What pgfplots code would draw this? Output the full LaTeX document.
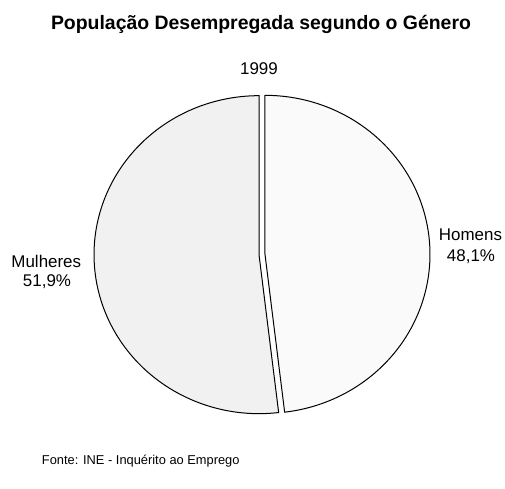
\documentclass[border=0pt]{standalone}
\usepackage{pgfplots}
\usepackage{pgfplotstable}
\pgfplotsset{compat=1.18}
\usepackage{fontspec}
\setmainfont{Liberation Sans}
\pgfplotstableread{
label value
Homens 48.1
Mulheres 51.9
}\piedata
\begin{document}
\begin{tikzpicture}
\pgfplotstablegetelem{0}{value}\of\piedata \let\vH\pgfplotsretval
\pgfplotstablegetelem{1}{value}\of\piedata \let\vM\pgfplotsretval
\pgfmathsetmacro{\aS}{90}
\pgfmathsetmacro{\aM}{90-3.6*\vH}
\pgfmathsetmacro{\aE}{\aM-3.6*\vM}
\pgfmathsetmacro{\mH}{(\aS+\aM)/2}
\pgfmathsetmacro{\mM}{(\aM+\aE)/2}
\def\cx{262}\def\cy{234.5}\def\Rx{165}\def\Ry{159}\def\ex{3}
\pgfmathsetmacro{\hx}{\cx+\ex*cos(\mH)}
\pgfmathsetmacro{\hy}{\cy+\ex*sin(\mH)}
\pgfmathsetmacro{\mx}{\cx+\ex*cos(\mM)}
\pgfmathsetmacro{\my}{\cy+\ex*sin(\mM)}
\begin{axis}[
  scale only axis, width=505bp, height=489bp,
  xmin=0, xmax=505, ymin=0, ymax=489,
  hide axis, clip=false,
]
\addplot[draw=black, line width=1bp, fill=gray!4, domain=\aS:\aM, samples=120, variable=\t]
  ({\hx+\Rx*cos(\t)}, {\hy+\Ry*sin(\t)}) -- (axis cs:\hx,\hy) -- cycle;
\addplot[draw=black, line width=1bp, fill=gray!11, domain=\aM:\aE, samples=120, variable=\t]
  ({\mx+\Rx*cos(\t)}, {\my+\Ry*sin(\t)}) -- (axis cs:\mx,\my) -- cycle;
\node[font=\fontsize{19.5}{22}\bfseries\selectfont, anchor=base, inner sep=0pt] at (axis cs:261,459.7) {População Desempregada segundo o Género};
\node[font=\fontsize{17}{20}\selectfont, anchor=base, inner sep=0pt] at (axis cs:259,414.7) {1999};
\node[font=\fontsize{17}{20}\selectfont, anchor=base, inner sep=0pt] at (axis cs:470.5,248) {Homens};
\node[font=\fontsize{17}{20}\selectfont, anchor=base, inner sep=0pt] at (axis cs:471,227) {48,1\%};
\node[font=\fontsize{17}{20}\selectfont, anchor=base, inner sep=0pt] at (axis cs:46.3,221.3) {Mulheres};
\node[font=\fontsize{17}{20}\selectfont, anchor=base, inner sep=0pt] at (axis cs:47,202.3) {51,9\%};
\node[font=\fontsize{12.9}{15}\selectfont, anchor=base west, inner sep=0pt] at (axis cs:41.7,25) {Fonte: INE - Inquérito ao Emprego};
\end{axis}
\path[use as bounding box] (0,0) rectangle (505bp,489bp);
\end{tikzpicture}
\end{document}
